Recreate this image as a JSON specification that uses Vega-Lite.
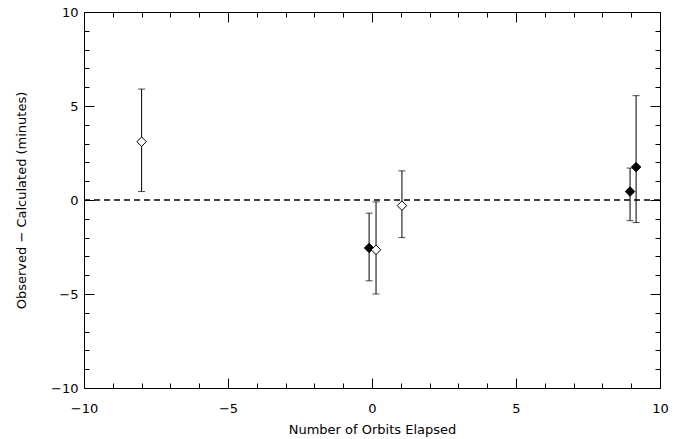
{
"$schema":"https://vega.github.io/schema/vega-lite/v6.json",
"width":576,"height":376,
"autosize":{"type":"none"},
"padding":{"left":84,"top":12,"right":13,"bottom":51},
"background":"white",
"config":{"view":{"stroke":null},"axis":{"grid":false,"domainColor":"black","tickColor":"black","labelColor":"black","titleColor":"black","labelFont":"DejaVu Sans","titleFont":"DejaVu Sans","labelFontSize":13,"titleFontSize":13,"titleFontWeight":"normal","labelFlush":false,"labelOverlap":false}},
"datasets":{
"pts":[
{"x":-8,"y":3.1,"lo":0.45,"hi":5.9,"type":"open"},
{"x":-0.1,"y":-2.55,"lo":-4.3,"hi":-0.7,"type":"filled"},
{"x":0.14,"y":-2.65,"lo":-5.0,"hi":-0.1,"type":"open"},
{"x":1.04,"y":-0.3,"lo":-2.0,"hi":1.55,"type":"open"},
{"x":8.96,"y":0.45,"lo":-1.1,"hi":1.7,"type":"filled"},
{"x":9.17,"y":1.75,"lo":-1.2,"hi":5.55,"type":"filled"}
],
"zero":[{"x1":-10,"x2":10,"y":0}]
},
"layer":[
{"data":{"name":"zero"},
 "mark":{"type":"rule","color":"black","strokeDash":[6,4],"strokeWidth":1},
 "encoding":{"x":{"field":"x1","type":"quantitative","scale":{"domain":[-10,10],"nice":false},
   "axis":{"orient":"bottom","title":"Number of Orbits Elapsed","values":[-10,-9,-8,-7,-6,-5,-4,-3,-2,-1,0,1,2,3,4,5,6,7,8,9,10],
   "labelExpr":"datum.value % 5 == 0 ? datum.label : ''","tickSize":{"condition":{"test":"datum.value % 5 == 0","value":-10},"value":-5},"labelPadding":24,"titlePadding":3}},
  "x2":{"field":"x2"},
  "y":{"field":"y","type":"quantitative","scale":{"domain":[-10,10],"nice":false},
   "axis":{"orient":"left","title":"Observed − Calculated (minutes)","values":[-10,-9,-8,-7,-6,-5,-4,-3,-2,-1,0,1,2,3,4,5,6,7,8,9,10],
   "labelExpr":"datum.value % 5 == 0 ? datum.label : ''","tickSize":{"condition":{"test":"datum.value % 5 == 0","value":-10},"value":-5},"labelPadding":16,"titlePadding":22}}}},
{"data":{"name":"zero"},
 "mark":{"type":"rule","color":"black","strokeDash":[6,4],"strokeWidth":1},
 "encoding":{"x":{"field":"x1","type":"quantitative",
   "axis":{"orient":"top","title":null,"labels":false,"values":[-10,-9,-8,-7,-6,-5,-4,-3,-2,-1,0,1,2,3,4,5,6,7,8,9,10],"tickSize":{"condition":{"test":"datum.value % 5 == 0","value":-10},"value":-5}}},
  "x2":{"field":"x2"},
  "y":{"field":"y","type":"quantitative",
   "axis":{"orient":"right","title":null,"labels":false,"values":[-10,-9,-8,-7,-6,-5,-4,-3,-2,-1,0,1,2,3,4,5,6,7,8,9,10],"tickSize":{"condition":{"test":"datum.value % 5 == 0","value":-10},"value":-5}}}}},
{"data":{"name":"pts"},"mark":{"type":"rule","color":"black","strokeWidth":1},
 "encoding":{"x":{"field":"x","type":"quantitative","axis":null},"y":{"field":"lo","type":"quantitative","axis":null},"y2":{"field":"hi"}}},
{"data":{"name":"pts"},"mark":{"type":"tick","color":"black","orient":"horizontal","size":7,"thickness":1},
 "encoding":{"x":{"field":"x","type":"quantitative","axis":null},"y":{"field":"lo","type":"quantitative","axis":null}}},
{"data":{"name":"pts"},"mark":{"type":"tick","color":"black","orient":"horizontal","size":7,"thickness":1},
 "encoding":{"x":{"field":"x","type":"quantitative","axis":null},"y":{"field":"hi","type":"quantitative","axis":null}}},
{"data":{"name":"pts"},"mark":{"type":"point","shape":"diamond","size":90,"stroke":"black","strokeWidth":1,"opacity":1},
 "encoding":{"x":{"field":"x","type":"quantitative","axis":null},"y":{"field":"y","type":"quantitative","axis":null},
   "fill":{"field":"type","type":"nominal","scale":{"domain":["open","filled"],"range":["white","black"]},"legend":null}}}
],
"resolve":{"axis":{"x":"independent","y":"independent"}}
}
